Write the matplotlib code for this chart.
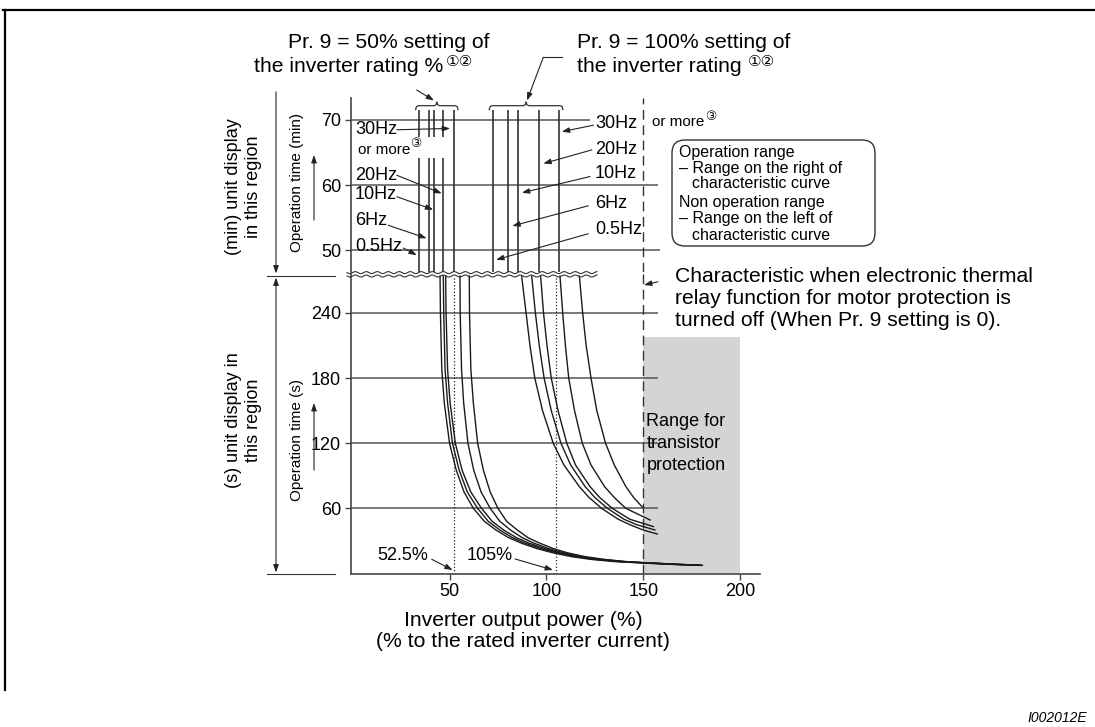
import numpy as np
import matplotlib.pyplot as plt
import matplotlib.transforms as mtransforms
from matplotlib.lines import Line2D
from matplotlib.patches import FancyBboxPatch, FancyArrowPatch

plt.rcParams['font.family'] = ['Liberation Sans', 'DejaVu Sans']

W, H = 1095, 727

# ---- values ----
freq_labels = ['0.5Hz', '6Hz', '10Hz', '20Hz', '30Hz']

# (min) region: vertical characteristic lines (inverter output power %)
min_x_50 = [34.3, 39.4, 42.0, 46.6, 52.2]
min_x_100 = [72.3, 80.3, 85.5, 96.0, 106.3]
min_line_top = 71.5
min_ticks = [50, 60, 70]
min_grid_end = [158.6, 157.6, 122.5]

# (s) region: curves for Pr.9 = 50 %
sec_t_50 = [274, 240, 188, 157, 120, 95, 75, 60, 48, 40, 33, 28, 23, 19, 15.5, 13, 11, 9.8, 8.5, 7.5]
sec_x_50 = [
    [45.1, 45.3, 46.0, 47.3, 50.0, 53.5, 57.5, 62.3, 68.0, 74.0, 80.5, 87.0, 95.0, 103.5, 113.0, 123.0, 135.0, 148.0, 163.0, 179.0],
    [46.8, 47.0, 47.7, 49.0, 51.5, 55.0, 59.2, 64.5, 70.0, 76.0, 82.5, 89.0, 97.0, 105.5, 115.0, 125.0, 137.0, 150.0, 165.0, 179.5],
    [48.0, 48.2, 49.0, 50.3, 53.0, 56.5, 61.0, 66.5, 72.0, 78.0, 84.5, 91.0, 99.0, 107.0, 116.5, 126.5, 138.5, 151.0, 166.0, 180.0],
    [55.4, 55.5, 56.2, 57.3, 59.5, 62.5, 66.3, 71.0, 76.0, 81.5, 87.5, 93.5, 101.0, 109.0, 118.0, 128.0, 140.0, 152.0, 167.0, 180.0],
    [60.2, 60.3, 61.0, 62.3, 64.5, 67.5, 71.0, 75.0, 79.5, 85.0, 90.5, 96.5, 103.5, 111.0, 120.0, 130.0, 141.0, 153.0, 168.0, 180.5],
]

# (s) region: curves for Pr.9 = 100 %
sec_t_100 = [
    [274, 240, 210, 180, 150, 120, 100, 80, 70, 60, 50, 45, 40, 36.4],
    [274, 240, 210, 180, 150, 120, 100, 80, 70, 60, 50, 45, 40.1],
    [274, 240, 210, 180, 150, 120, 100, 80, 70, 60, 50, 43.2],
    [274, 240, 210, 180, 150, 120, 100, 80, 70, 60, 49.3],
    [274, 240, 210, 180, 150, 120, 100, 80, 70, 61],
]
sec_x_100 = [
    [87.2, 89.5, 91.5, 94.0, 98.0, 103.5, 109.0, 117.0, 122.0, 128.5, 137.0, 143.0, 150.0, 157.2],
    [92.4, 94.3, 96.3, 98.8, 102.5, 107.5, 112.5, 120.0, 125.0, 131.5, 140.0, 146.5, 156.0],
    [97.0, 98.5, 100.3, 102.5, 106.0, 110.5, 115.0, 122.5, 127.5, 134.0, 143.0, 155.2],
    [107.0, 108.4, 109.8, 111.5, 114.5, 118.5, 123.0, 130.0, 135.0, 141.0, 153.5],
    [117.0, 118.7, 120.5, 123.0, 126.0, 130.5, 135.0, 141.0, 145.0, 149.6],
]

sec_ticks = [60, 120, 180, 240]
sec_grid_end = 157.5
x_ticks = [50, 100, 150, 200]
marks = [52.5, 105]
mark_labels = ['52.5%', '105%']
thermal_off_x = 150
shade_x = [150, 200]
shade_top = 218

fig = plt.figure(figsize=(W / 100, H / 100), dpi=100)
# pixel coords, origin top-left
PX = mtransforms.Affine2D().scale(1 / W, -1 / H).translate(0, 1) + fig.transFigure

ax_t = fig.add_axes([350.7 / W, 1 - 272.1 / H, 409.3 / W, 174.2 / H])
ax_b = fig.add_axes([350.7 / W, 1 - 573.5 / H, 409.3 / W, 299.6 / H])

for ax in (ax_t, ax_b):
    ax.set_xlim(-1, 210.2)
    ax.patch.set_alpha(0)
    ax.spines['top'].set_visible(False)
    ax.spines['right'].set_visible(False)
    for s in ('left', 'bottom'):
        ax.spines[s].set_color('#444')
        ax.spines[s].set_linewidth(1.2)
    ax.tick_params(direction='out', length=4, width=1, color='#444', labelsize=13, pad=3)
    ax.axvline(thermal_off_x, color='#333', lw=1, ls=(0, (7, 4)), zorder=2)

ax_t.spines['bottom'].set_visible(False)
ax_t.set_xticks([])
ax_t.set_ylim(46.6, 73.4)
ax_t.set_yticks(min_ticks)
ax_b.set_ylim(0, 276)
ax_b.set_yticks(sec_ticks)
ax_b.set_xticks(x_ticks)

ARW = dict(arrowstyle='-|>,head_length=0.45,head_width=0.16', color='#222', lw=0.8,
           shrinkA=0, shrinkB=0, mutation_scale=10)

# ---- (min) section ----
ax_t.hlines(min_ticks, -1, min_grid_end, colors='#555', lw=1.1, zorder=1)
ax_t.vlines(min_x_50 + min_x_100, 46.6, min_line_top, colors='#333', lw=1.2, zorder=2)
ax_t.fill_between([32.5, 48], 64.1, 67.4, color='white', lw=0, zorder=2.5)


def brace(ax, x0, x1, y, d=0.6, e=1.4):
    xm = (x0 + x1) / 2
    xs = [x0, x0 + e * 0.3, x0 + e, xm - e, xm - e * 0.3, xm, xm + e * 0.3, xm + e, x1 - e, x1 - e * 0.3, x1]
    ys = [y - d, y - d * 0.25, y, y, y + d * 0.25, y + d, y + d * 0.25, y, y, y - d * 0.25, y - d]
    ax.plot(xs, ys, color='#333', lw=0.9, clip_on=False)


brace(ax_t, min(min_x_50) - 1.8, max(min_x_50) + 2.2, 72.2)
brace(ax_t, min(min_x_100) - 1.8, max(min_x_100) + 2.2, 72.2)

left_pos = [(1.2, 50.5), (1.2, 54.6), (1.2, 58.5), (1.2, 61.5), (1.2, 68.5)]
left_arr = [((26.2, 50.3), (33.1, 49.2)), ((18.4, 53.8), (38.2, 51.8)),
            ((22.8, 58.2), (41.6, 56.2)), ((22.8, 61.5), (46.0, 58.7)),
            ((22.8, 68.5), (50.3, 68.7))]
right_pos = [(125.1, 53.1), (125.1, 57.2), (125.1, 61.7), (125.1, 65.4), (125.1, 69.5)]
right_arr = [((121.6, 52.5), (74.0, 48.5)), ((121.6, 56.8), (82.4, 53.7)),
             ((122.5, 61.3), (87.3, 58.8)), ((123.4, 65.4), (98.4, 63.3)),
             ((124.2, 69.2), (107.9, 68.2))]
for lab, p, a in zip(freq_labels, left_pos, left_arr):
    ax_t.text(p[0], p[1], lab, fontsize=13, va='center', ha='left', zorder=4)
    ax_t.annotate('', xy=a[1], xytext=a[0], arrowprops=ARW, zorder=4)
for lab, p, a in zip(freq_labels, right_pos, right_arr):
    ax_t.text(p[0], p[1], lab, fontsize=13, va='center', ha='left', zorder=4)
    ax_t.annotate('', xy=a[1], xytext=a[0], arrowprops=ARW, zorder=4)
ax_t.text(2.8, 65.4, 'or more', fontsize=11, va='center', zorder=4)
ax_t.text(32.4, 66.3, '\u2462', fontsize=9, va='center', ha='center', zorder=4)
ax_t.text(154.4, 69.7, 'or more', fontsize=11, va='center', clip_on=False)
ax_t.text(185, 70.4, '\u2462', fontsize=9, va='center', ha='center', clip_on=False)

# ---- (s) section ----
ax_b.fill_between(shade_x, 0, shade_top, color='#d3d4d6', lw=0, zorder=0)
ax_b.hlines(sec_ticks, -1, sec_grid_end, colors='#555', lw=1.1, zorder=1)
ax_b.vlines(marks, 0, 274, linestyles=':', colors='#222', lw=0.9, zorder=1)
for xs in sec_x_50:
    ax_b.plot(xs, sec_t_50, color='#1a1a1a', lw=1.0, zorder=3)
for xs, ts in zip(sec_x_100, sec_t_100):
    ax_b.plot(xs, ts, color='#1a1a1a', lw=1.0, zorder=3)

mark_text = [(25.7, 17), (70.6, 17)]
mark_arr = [((40.8, 13.1), (51.6, 3.2)), ((83.8, 13.4), (103.4, 3.2))]
for lab, p, a in zip(mark_labels, mark_text, mark_arr):
    ax_b.text(p[0], p[1], lab, fontsize=13, ha='center', va='center')
    ax_b.annotate('', xy=a[1], xytext=a[0], arrowprops=ARW)

# ---- figure-level annotations (pixel coords) ----
def ptext(x, y, s, **kw):
    kw.setdefault('va', 'center')
    fig.text(x, y, s, transform=PX, **kw)


def parrow(p0, p1, style='-|>'):
    st = style + ',head_length=0.45,head_width=0.16'
    fig.add_artist(FancyArrowPatch(p0, p1, transform=PX, arrowstyle=st, color='#222',
                                   lw=0.8, shrinkA=0, shrinkB=0, mutation_scale=10))


def pline(xs, ys, lw=0.9, color='#333'):
    fig.add_artist(Line2D(xs, ys, transform=PX, lw=lw, color=color))


BIG = 15.2

# frame
pline([3, 1095], [10, 10], lw=1.6, color='black')
pline([5, 5], [10, 690], lw=1.6, color='black')

# axis break
wx = np.linspace(347, 597, 500)
for base in (272.6, 276.0):
    pline(wx, base + 1.0 * np.sin(2 * np.pi * (wx - 347) / 11), lw=0.8)

# dimension lines on the left
parrow((276, 92), (276, 273.5))
parrow((276, 277.5), (276, 572.5), style='<|-|>')
pline([267, 335], [275.5, 275.5], lw=0.8)
pline([267, 335], [573.5, 573.5], lw=0.8)
ptext(233, 187, '(min) unit display', rotation=90, ha='center', fontsize=13)
ptext(253, 187, 'in this region', rotation=90, ha='center', fontsize=13)
ptext(233, 420, '(s) unit display in', rotation=90, ha='center', fontsize=13)
ptext(253, 420, 'this region', rotation=90, ha='center', fontsize=13)
ptext(297, 183, 'Operation time (min)', rotation=90, ha='center', fontsize=11)
ptext(297, 440, 'Operation time (s)', rotation=90, ha='center', fontsize=11)
parrow((314, 220), (314, 155))
parrow((314, 470), (314, 403))

# Pr. 9 headings
ptext(490, 43, 'Pr. 9 = 50% setting of', ha='right', fontsize=BIG)
ptext(443, 67, 'the inverter rating %', ha='right', fontsize=BIG)
ptext(446, 62, '\u2460\u2461', ha='left', fontsize=11)
parrow((416.7, 90), (434, 100.5))
ptext(577, 43, 'Pr. 9 = 100% setting of', ha='left', fontsize=BIG)
ptext(577, 67, 'the inverter rating', ha='left', fontsize=BIG)
ptext(748, 62, '\u2460\u2461', ha='left', fontsize=11)
pline([543.3, 561.7], [57.3, 57.3], lw=0.8, color='#222')
parrow((543.3, 57.3), (527, 100.5))

# operation range box
fig.add_artist(FancyBboxPatch((672, 140), 203, 106, boxstyle='round,pad=0,rounding_size=13',
                              transform=PX, fc='white', ec='#333', lw=1))
box_lines = [(679, 152, 'Operation range'), (679, 168, '\u2013 Range on the right of'),
             (692, 183, 'characteristic curve'), (679, 203, 'Non operation range'),
             (679, 219, '\u2013 Range on the left of'), (692, 235, 'characteristic curve')]
for x, y, s in box_lines:
    ptext(x, y, s, fontsize=11.5)

# thermal relay off note
for y, s in zip([277, 298.5, 320], ['Characteristic when electronic thermal',
                                     'relay function for motor protection is',
                                     'turned off (When Pr. 9 setting is 0).']):
    ptext(675, y, s, fontsize=BIG)
parrow((658, 281.7), (644, 285))

for y, s in zip([421.7, 443.3, 465], ['Range for', 'transistor', 'protection']):
    ptext(646.5, y, s, fontsize=13)

ptext(523, 620, 'Inverter output power (%)', ha='center', fontsize=BIG)
ptext(523, 641.7, '(% to the rated inverter current)', ha='center', fontsize=BIG)

ptext(1087, 718, 'I002012E', ha='right', fontsize=10, style='italic')

fig.savefig('out.png', dpi=100)
